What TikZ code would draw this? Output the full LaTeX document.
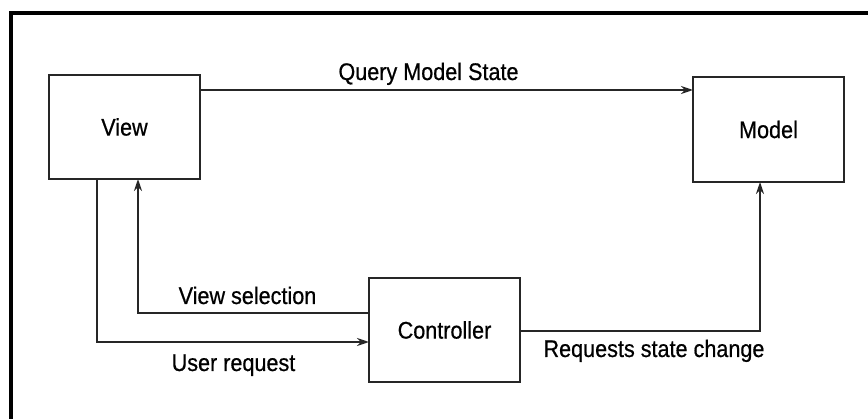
\documentclass[tikz,border=0pt]{standalone}
\usepackage{fontspec}
\setmainfont{Liberation Sans}[FakeStretch=0.9,FakeBold=0.6]
\usetikzlibrary{arrows.meta}
\begin{document}
\begin{tikzpicture}[x=1pt,y=-1pt,
  box/.style={draw=black!85, line width=2pt, rectangle, minimum width=151pt, minimum height=104pt, inner sep=0pt, outer sep=0pt, font=\fontsize{24}{28}\selectfont},
  lbl/.style={anchor=base, inner sep=0pt, font=\fontsize{24}{28}\selectfont},
  arr/.style={draw=black!85, line width=2pt, -{Stealth[length=12pt,width=8pt]}},
  conn/.style={line width=2pt}]
\useasboundingbox (0,0) rectangle (868,419);
\fill[white] (0,0) rectangle (868,419);
% outer frame (top and left edges)
\draw[line width=4pt] (11,419) -- (11,13) -- (868,13);
% boxes
\node[box] (View) at (124.5,127) {View};
\node[box, minimum height=105pt] (Model) at (768.5,129.5) {Model};
\node[box] (Controller) at (444.5,330) {Controller};
% helper coordinates
\coordinate (qy) at (0,90);
\coordinate (vs) at (138,313);
\coordinate (ur) at (97,342);
\coordinate (rs) at (760,331);
% connectors
\draw[arr] (View.east |- qy) -- (Model.west |- qy);
\draw[arr] (Controller.west |- vs) -| (View.south -| vs);
\draw[arr] (View.south -| ur) |- (Controller.west |- ur);
\draw[arr] (Controller.east |- rs) -| (Model.south -| rs);
% labels
\node[lbl] (lq) at (428.5,80) {Query Model State};
\node[lbl] (lvs) at (247.5,304) {View selection};
\node[lbl] (lur) at (233.5,371) {User request};
\node[lbl] (lrs) at (654,357) {Requests state change};
\end{tikzpicture}
\end{document}
